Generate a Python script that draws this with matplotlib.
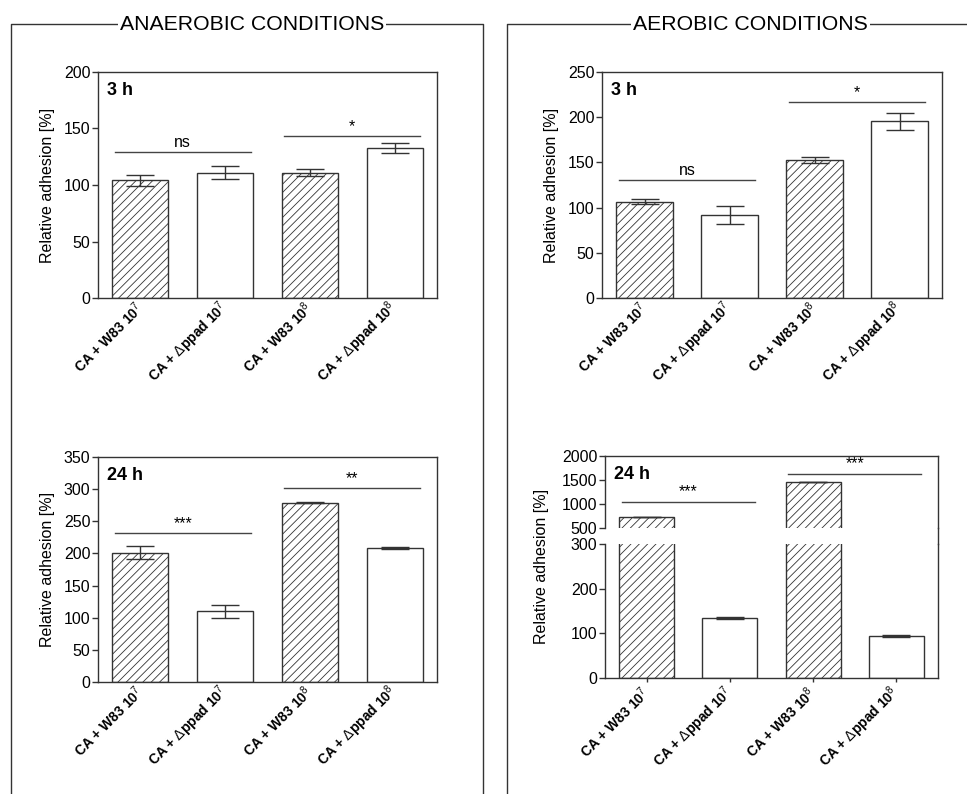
import matplotlib.pyplot as plt
from matplotlib.lines import Line2D

plt.rcParams['font.family'] = ['Liberation Sans', 'DejaVu Sans']
plt.rcParams['mathtext.fontset'] = 'custom'
plt.rcParams['mathtext.rm'] = 'Liberation Sans'
plt.rcParams['mathtext.it'] = 'Liberation Sans:italic'
plt.rcParams['mathtext.bf'] = 'Liberation Sans:bold'
plt.rcParams['hatch.linewidth'] = 0.6
plt.rcParams['hatch.color'] = '#333333'

# data
groups = [r'CA + W83 10$^{7}$', r'CA + $\Delta$ppad 10$^{7}$',
          r'CA + W83 10$^{8}$', r'CA + $\Delta$ppad 10$^{8}$']
hatches = ['////', '', '////', '']

anaer_3h = [104, 111, 111, 133]
anaer_3h_err = [4.6, 6.0, 3.0, 4.3]
aer_3h = [106.5, 91.5, 152.5, 195.5]
aer_3h_err = [2.8, 9.8, 3.3, 9.4]
anaer_24h = [201, 110, 279, 208.5]
anaer_24h_err = [9.8, 10.0, 1.0, 2.0]
aer_24h = [727, 133.5, 1455, 94]
aer_24h_err = [3.0, 2.0, 5.0, 3.0]

# significance bars: (first, second, height, label)
sig_anaer_3h = [(0, 1, 129, 'ns'), (2, 3, 143.5, '*')]
sig_aer_3h = [(0, 1, 130, 'ns'), (2, 3, 217, '*')]
sig_anaer_24h = [(0, 1, 232, '***'), (2, 3, 302, '**')]
sig_aer_24h = [(0, 1, 1050, '***'), (2, 3, 1635, '***')]

W, H = 967, 794
DARK = '#333333'
FS = 11.5
fig = plt.figure(figsize=(W / 100, H / 100), dpi=100)


def box(x0, y0, x1, y1):
    return [x0 / W, 1 - y1 / H, (x1 - x0) / W, (y1 - y0) / H]


def fline(xs, ys):
    fig.add_artist(Line2D([x / W for x in xs], [1 - y / H for y in ys],
                          color=DARK, lw=1))


def style(ax):
    for s in ax.spines.values():
        s.set_color(DARK)
        s.set_linewidth(1)
    ax.tick_params(axis='y', direction='out', length=4, width=1,
                   color=DARK, labelsize=FS, pad=1.5)
    ax.tick_params(axis='x', length=0, pad=5)
    ax.set_xlim(-0.5, 3.5)


def draw_bars(ax, vals, errs):
    x = range(len(vals))
    bars = ax.bar(x, vals, width=0.66, color='white', edgecolor=DARK,
                  linewidth=1)
    for b, h in zip(bars, hatches):
        b.set_hatch(h)
    ax.errorbar(x, vals, yerr=errs, fmt='none', ecolor=DARK,
                elinewidth=1, capsize=10, capthick=1)


def draw_sig(ax, sigs):
    for i, j, y, lab in sigs:
        ax.plot([i - 0.3, j + 0.3], [y, y], color='#444444', lw=1)
        ax.annotate(lab, xy=((i + j) / 2, y), xytext=(0, 1.5),
                    textcoords='offset points', ha='center', va='bottom',
                    fontsize=FS)


def xlabels(ax):
    ax.set_xticks(range(4))
    ax.set_xticklabels(groups, rotation=45, ha='right', va='center',
                       rotation_mode='anchor', fontweight='bold', fontsize=10)


def corner(ax, txt):
    ax.annotate(txt, xy=(0, 1), xycoords='axes fraction', xytext=(6.5, -13.5),
                textcoords='offset points', ha='left', va='center',
                fontsize=13, fontweight='bold')


def simple_panel(rect, vals, errs, sigs, ymax, step, txt):
    ax = fig.add_axes(box(*rect))
    style(ax)
    draw_bars(ax, vals, errs)
    draw_sig(ax, sigs)
    ax.set_ylim(0, ymax)
    ax.set_yticks(range(0, ymax + 1, step))
    ax.set_ylabel('Relative adhesion [%]', fontsize=FS, labelpad=6)
    xlabels(ax)
    corner(ax, txt)
    return ax


simple_panel((98, 72, 437, 298), anaer_3h, anaer_3h_err, sig_anaer_3h,
             200, 50, '3 h')
simple_panel((602, 72, 942, 298), aer_3h, aer_3h_err, sig_aer_3h,
             250, 50, '3 h')
simple_panel((98, 457, 437, 682), anaer_24h, anaer_24h_err, sig_anaer_24h,
             350, 50, '24 h')

# broken y axis for aerobic 24 h
ax_hi = fig.add_axes(box(605, 456, 938, 528))
ax_lo = fig.add_axes(box(605, 544, 938, 678))
for ax in (ax_hi, ax_lo):
    style(ax)
    draw_bars(ax, aer_24h, aer_24h_err)
ax_hi.set_ylim(500, 2000)
ax_hi.set_yticks([500, 1000, 1500, 2000])
ax_hi.spines['bottom'].set_visible(False)
ax_hi.set_xticks([])
draw_sig(ax_hi, sig_aer_24h)
corner(ax_hi, '24 h')
ax_lo.set_ylim(0, 300)
ax_lo.set_yticks([0, 100, 200, 300])
ax_lo.spines['top'].set_visible(False)
xlabels(ax_lo)
ax_lo.tick_params(axis='x', length=3, width=1, color=DARK, pad=6)
ax_lo.set_ylabel('Relative adhesion [%]', fontsize=FS)
ax_lo.yaxis.set_label_coords(-0.168, 0.83)
fline([938, 938], [528, 544])

# group frames with titles
fline([11, 11, 483, 483], [794, 24, 24, 794])
fline([507, 507, 967], [794, 24, 24])
fig.text(252 / W, 1 - 24 / H, 'ANAEROBIC CONDITIONS', ha='center',
         va='center', fontsize=15.3,
         bbox=dict(facecolor='white', edgecolor='none', pad=1.5))
fig.text(750 / W, 1 - 24 / H, 'AEROBIC CONDITIONS', ha='center',
         va='center', fontsize=15.3,
         bbox=dict(facecolor='white', edgecolor='none', pad=1.5))

fig.savefig('out.png', dpi=100)
